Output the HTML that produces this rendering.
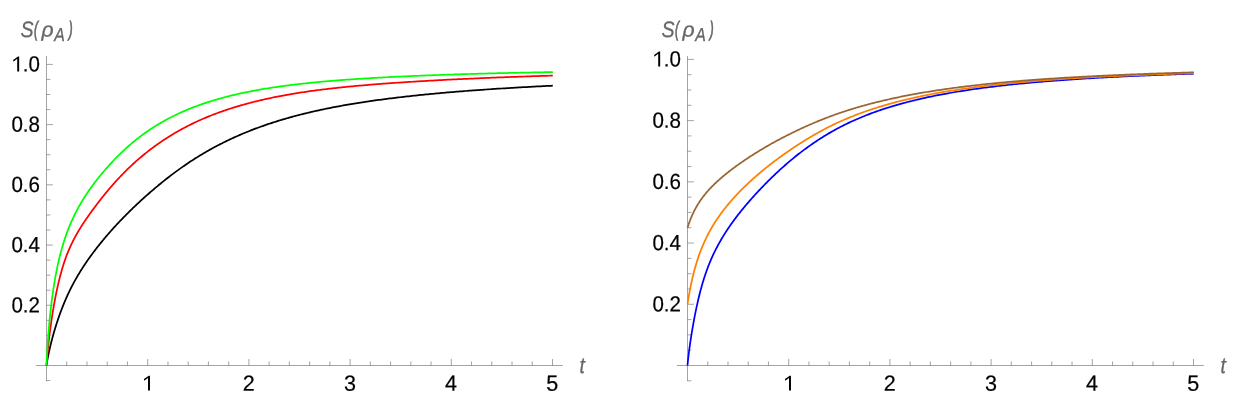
<!DOCTYPE html>
<html><head><meta charset="utf-8"><title>plot</title>
<style>
html,body{margin:0;padding:0;background:#fff;}
body{width:1242px;height:408px;overflow:hidden;}
svg{display:block;will-change:transform;}
text{font-family:"Liberation Sans",sans-serif;text-rendering:geometricPrecision;}
.tl{font-size:22.0px;fill:#000;stroke:#000;stroke-width:0.22px;}
.al{font-size:22.0px;font-style:italic;fill:#666;}
</style></head><body>
<svg width="1242" height="408" viewBox="0 0 1242 408">
<path d="M35.9 365.5 H562.8 M46.5 381.2 V56.0" stroke="#666666" stroke-width="0.6" fill="none"/>
<path d="M66.74 365.5 v-4 M86.98 365.5 v-4 M107.22 365.5 v-4 M127.46 365.5 v-4 M147.70 365.5 v-6.5 M167.94 365.5 v-4 M188.18 365.5 v-4 M208.42 365.5 v-4 M228.66 365.5 v-4 M248.90 365.5 v-6.5 M269.14 365.5 v-4 M289.38 365.5 v-4 M309.62 365.5 v-4 M329.86 365.5 v-4 M350.10 365.5 v-6.5 M370.34 365.5 v-4 M390.58 365.5 v-4 M410.82 365.5 v-4 M431.06 365.5 v-4 M451.30 365.5 v-6.5 M471.54 365.5 v-4 M491.78 365.5 v-4 M512.02 365.5 v-4 M532.26 365.5 v-4 M552.50 365.5 v-6.5 M46.5 380.56 h3.9 M46.5 350.44 h3.9 M46.5 335.39 h3.9 M46.5 320.33 h3.9 M46.5 305.28 h6.4 M46.5 290.23 h3.9 M46.5 275.17 h3.9 M46.5 260.12 h3.9 M46.5 245.06 h6.4 M46.5 230.00 h3.9 M46.5 214.95 h3.9 M46.5 199.89 h3.9 M46.5 184.84 h6.4 M46.5 169.78 h3.9 M46.5 154.73 h3.9 M46.5 139.67 h3.9 M46.5 124.62 h6.4 M46.5 109.56 h3.9 M46.5 94.51 h3.9 M46.5 79.45 h3.9 M46.5 64.40 h6.4 " stroke="#666666" stroke-width="0.6" fill="none"/>
<path d="M148.00 390.60 L148.00 377.90 L144.20 380.70 L143.95 379.00 L148.80 375.67 L149.97 375.67 L149.97 390.60Z" fill="#000"/>
<text transform="translate(248.70 390.70) rotate(0.03) scale(0.98 1)" text-anchor="middle" class="tl">2</text>
<text transform="translate(349.90 390.70) rotate(0.03) scale(0.98 1)" text-anchor="middle" class="tl">3</text>
<text transform="translate(451.10 390.70) rotate(0.03) scale(0.98 1)" text-anchor="middle" class="tl">4</text>
<text transform="translate(552.30 390.70) rotate(0.03) scale(0.98 1)" text-anchor="middle" class="tl">5</text>
<text transform="translate(40.00 312.48) rotate(0.03) scale(0.934 1)" text-anchor="end" class="tl">0.2</text>
<text transform="translate(40.00 252.26) rotate(0.03) scale(0.934 1)" text-anchor="end" class="tl">0.4</text>
<text transform="translate(40.00 192.04) rotate(0.03) scale(0.934 1)" text-anchor="end" class="tl">0.6</text>
<text transform="translate(40.00 131.82) rotate(0.03) scale(0.934 1)" text-anchor="end" class="tl">0.8</text>
<path d="M17.20 71.53 L17.20 58.83 L13.40 61.63 L13.15 59.93 L18.00 56.60 L19.17 56.60 L19.17 71.53Z" fill="#000"/>
<text transform="translate(40.00 71.60) rotate(0.03) scale(0.934 1)" text-anchor="end" class="tl">.0</text>
<text transform="translate(20.49 36.5) rotate(0.03) scale(0.886 1)" style="font-size:22.20px" class="al" stroke="#666" stroke-width="0.3" vector-effect="non-scaling-stroke">S</text>
<text transform="translate(34.08 36.45) rotate(0.03) scale(0.578 1)" style="font-size:21.00px" class="al" stroke="#666" stroke-width="0.8" vector-effect="non-scaling-stroke">(</text>
<text transform="translate(41.52 36.55) rotate(0.03) scale(1.019 1)" style="font-size:20.70px" class="al" stroke="#666" stroke-width="0.3" vector-effect="non-scaling-stroke">ρ</text>
<text transform="translate(54.23 41) rotate(0.03) scale(0.845 1)" style="font-size:18.75px" class="al" stroke="#666" stroke-width="0.3" vector-effect="non-scaling-stroke">A</text>
<text transform="translate(68.69 36.45) rotate(0.03) scale(0.559 1)" style="font-size:21.00px" class="al" stroke="#666" stroke-width="0.8" vector-effect="non-scaling-stroke">)</text>
<text transform="translate(579.58 372.7) rotate(0.03) scale(0.847 1)" style="font-size:22.55px" class="al" stroke="#666" stroke-width="0.3" vector-effect="non-scaling-stroke">t</text>
<path d="M46.50 365.50 L46.50 365.48 L46.51 365.42 L46.52 365.32 L46.53 365.20 L46.55 365.05 L46.57 364.87 L46.60 364.67 L46.63 364.45 L46.66 364.21 L46.70 363.94 L46.75 363.65 L46.79 363.35 L46.84 363.02 L46.90 362.68 L46.96 362.31 L47.02 361.93 L47.09 361.54 L47.16 361.12 L47.23 360.69 L47.31 360.25 L47.40 359.78 L47.48 359.31 L47.58 358.81 L47.67 358.31 L47.77 357.79 L47.87 357.25 L47.98 356.71 L48.09 356.14 L48.21 355.57 L48.33 354.98 L48.45 354.39 L48.58 353.78 L48.71 353.15 L48.85 352.52 L48.99 351.87 L49.14 351.22 L49.28 350.55 L49.44 349.87 L49.59 349.19 L49.75 348.49 L49.92 347.78 L50.09 347.06 L50.26 346.34 L50.44 345.60 L50.62 344.86 L50.80 344.11 L50.99 343.35 L51.18 342.58 L51.38 341.80 L51.58 341.02 L51.79 340.23 L52.00 339.43 L52.21 338.62 L52.43 337.81 L52.65 336.99 L52.88 336.17 L53.11 335.34 L53.34 334.50 L53.58 333.66 L53.82 332.81 L54.07 331.96 L54.32 331.10 L54.57 330.24 L54.83 329.37 L55.09 328.50 L55.36 327.63 L55.63 326.75 L55.90 325.87 L56.18 324.98 L56.46 324.09 L56.75 323.20 L57.04 322.31 L57.34 321.41 L57.63 320.51 L57.94 319.61 L58.24 318.70 L58.56 317.80 L58.87 316.89 L59.19 315.98 L59.51 315.07 L59.84 314.15 L60.17 313.24 L60.51 312.33 L60.85 311.41 L61.19 310.50 L61.54 309.58 L61.89 308.66 L62.25 307.75 L62.61 306.83 L62.97 305.91 L63.34 305.00 L63.71 304.08 L64.09 303.17 L64.47 302.25 L64.85 301.34 L65.24 300.43 L65.63 299.51 L66.03 298.60 L66.43 297.70 L66.83 296.79 L67.24 295.88 L67.65 294.98 L68.07 294.08 L68.49 293.17 L68.92 292.28 L69.35 291.38 L69.78 290.49 L70.22 289.59 L70.66 288.70 L71.10 287.82 L71.55 286.93 L72.01 286.05 L72.46 285.17 L72.93 284.29 L73.39 283.42 L73.86 282.55 L74.33 281.68 L74.81 280.81 L75.29 279.94 L75.78 279.08 L76.27 278.22 L76.76 277.36 L77.26 276.51 L77.76 275.65 L78.27 274.80 L78.78 273.95 L79.30 273.10 L79.81 272.25 L80.34 271.40 L80.86 270.56 L81.39 269.71 L81.93 268.87 L82.47 268.03 L83.01 267.19 L83.56 266.35 L84.11 265.52 L84.66 264.68 L85.22 263.85 L85.79 263.01 L86.35 262.18 L86.92 261.35 L87.50 260.52 L88.08 259.69 L88.66 258.86 L89.25 258.03 L89.84 257.20 L90.44 256.38 L91.04 255.55 L91.64 254.73 L92.25 253.90 L92.86 253.08 L93.48 252.25 L94.10 251.43 L94.72 250.61 L95.35 249.79 L95.98 248.96 L96.62 248.14 L97.26 247.32 L97.90 246.50 L98.55 245.68 L99.21 244.86 L99.86 244.04 L100.52 243.22 L101.19 242.41 L101.86 241.59 L102.53 240.77 L103.21 239.95 L103.89 239.13 L104.57 238.32 L105.26 237.50 L105.96 236.68 L106.65 235.87 L107.36 235.05 L108.06 234.23 L108.77 233.42 L109.48 232.60 L110.20 231.79 L110.92 230.97 L111.65 230.16 L112.38 229.34 L113.11 228.53 L113.85 227.71 L114.59 226.90 L115.34 226.08 L116.09 225.27 L116.85 224.46 L117.60 223.64 L118.37 222.83 L119.13 222.02 L119.90 221.20 L120.68 220.39 L121.46 219.58 L122.24 218.77 L123.03 217.95 L123.82 217.14 L124.61 216.33 L125.41 215.52 L126.22 214.71 L127.02 213.90 L127.83 213.09 L128.65 212.28 L129.47 211.47 L130.29 210.66 L131.12 209.85 L131.95 209.04 L132.79 208.23 L133.63 207.43 L134.47 206.62 L135.32 205.81 L136.17 205.01 L137.03 204.20 L137.89 203.39 L138.75 202.59 L139.62 201.78 L140.49 200.98 L141.37 200.18 L142.25 199.37 L143.13 198.57 L144.02 197.77 L144.91 196.97 L145.81 196.17 L146.71 195.37 L147.62 194.57 L148.52 193.77 L149.44 192.97 L150.35 192.18 L151.28 191.38 L152.20 190.59 L153.13 189.79 L154.06 189.00 L155.00 188.20 L155.94 187.41 L156.89 186.62 L157.84 185.83 L158.79 185.04 L159.75 184.25 L160.71 183.46 L161.68 182.68 L162.65 181.89 L163.62 181.11 L164.60 180.33 L165.58 179.55 L166.57 178.77 L167.56 177.99 L168.55 177.22 L169.55 176.45 L170.55 175.68 L171.56 174.91 L172.57 174.15 L173.58 173.38 L174.60 172.62 L175.63 171.87 L176.65 171.11 L177.68 170.36 L178.72 169.61 L179.76 168.86 L180.80 168.12 L181.85 167.38 L182.90 166.64 L183.95 165.91 L185.01 165.18 L186.08 164.45 L187.14 163.73 L188.22 163.01 L189.29 162.29 L190.37 161.58 L191.45 160.87 L192.54 160.16 L193.63 159.46 L194.73 158.76 L195.83 158.06 L196.93 157.37 L198.04 156.68 L199.16 156.00 L200.27 155.32 L201.39 154.64 L202.52 153.97 L203.64 153.30 L204.78 152.64 L205.91 151.98 L207.05 151.32 L208.20 150.67 L209.35 150.02 L210.50 149.38 L211.66 148.73 L212.82 148.10 L213.98 147.47 L215.15 146.84 L216.33 146.21 L217.50 145.59 L218.69 144.98 L219.87 144.37 L221.06 143.76 L222.25 143.16 L223.45 142.56 L224.65 141.96 L225.86 141.37 L227.07 140.79 L228.28 140.20 L229.50 139.63 L230.72 139.05 L231.95 138.48 L233.18 137.92 L234.41 137.35 L235.65 136.80 L236.89 136.24 L238.14 135.70 L239.39 135.15 L240.65 134.61 L241.90 134.07 L243.17 133.54 L244.43 133.01 L245.70 132.49 L246.98 131.97 L248.26 131.45 L249.54 130.94 L250.83 130.43 L252.12 129.93 L253.41 129.43 L254.71 128.94 L256.02 128.44 L257.32 127.96 L258.64 127.47 L259.95 127.00 L261.27 126.52 L262.60 126.05 L263.92 125.58 L265.25 125.12 L266.59 124.66 L267.93 124.20 L269.27 123.75 L270.62 123.30 L271.97 122.86 L273.33 122.42 L274.69 121.98 L276.06 121.55 L277.42 121.12 L278.80 120.70 L280.17 120.28 L281.55 119.86 L282.94 119.45 L284.33 119.04 L285.72 118.63 L287.12 118.23 L288.52 117.83 L289.92 117.44 L291.33 117.05 L292.75 116.66 L294.16 116.27 L295.58 115.89 L297.01 115.52 L298.44 115.14 L299.87 114.77 L301.31 114.41 L302.75 114.04 L304.20 113.68 L305.65 113.33 L307.10 112.98 L308.56 112.63 L310.02 112.28 L311.49 111.94 L312.96 111.60 L314.43 111.26 L315.91 110.93 L317.39 110.60 L318.88 110.28 L320.37 109.95 L321.86 109.63 L323.36 109.32 L324.86 109.00 L326.37 108.69 L327.88 108.39 L329.40 108.08 L330.92 107.78 L332.44 107.48 L333.97 107.19 L335.50 106.90 L337.03 106.61 L338.57 106.32 L340.11 106.04 L341.66 105.76 L343.21 105.48 L344.77 105.20 L346.33 104.93 L347.89 104.66 L349.46 104.39 L351.03 104.13 L352.61 103.87 L354.19 103.61 L355.77 103.35 L357.36 103.09 L358.95 102.84 L360.55 102.59 L362.15 102.34 L363.75 102.10 L365.36 101.85 L366.97 101.61 L368.59 101.38 L370.21 101.14 L371.83 100.91 L373.46 100.67 L375.10 100.44 L376.73 100.22 L378.37 99.99 L380.02 99.77 L381.67 99.55 L383.32 99.33 L384.98 99.11 L386.64 98.90 L388.30 98.68 L389.97 98.47 L391.65 98.26 L393.32 98.06 L395.01 97.85 L396.69 97.65 L398.38 97.45 L400.08 97.25 L401.77 97.05 L403.48 96.85 L405.18 96.66 L406.89 96.47 L408.61 96.27 L410.32 96.09 L412.05 95.90 L413.77 95.71 L415.50 95.53 L417.24 95.35 L418.98 95.17 L420.72 94.99 L422.46 94.81 L424.22 94.63 L425.97 94.46 L427.73 94.29 L429.49 94.12 L431.26 93.95 L433.03 93.78 L434.80 93.61 L436.58 93.45 L438.37 93.28 L440.15 93.12 L441.95 92.96 L443.74 92.80 L445.54 92.65 L447.34 92.49 L449.15 92.33 L450.96 92.18 L452.78 92.03 L454.60 91.88 L456.42 91.73 L458.25 91.58 L460.08 91.43 L461.92 91.29 L463.76 91.14 L465.60 91.00 L467.45 90.86 L469.30 90.72 L471.16 90.58 L473.02 90.44 L474.89 90.30 L476.75 90.16 L478.63 90.03 L480.50 89.90 L482.38 89.76 L484.27 89.63 L486.16 89.50 L488.05 89.37 L489.95 89.25 L491.85 89.12 L493.76 88.99 L495.66 88.87 L497.58 88.74 L499.50 88.62 L501.42 88.50 L503.34 88.38 L505.27 88.26 L507.21 88.14 L509.14 88.02 L511.09 87.91 L513.03 87.79 L514.98 87.68 L516.94 87.56 L518.89 87.45 L520.86 87.34 L522.82 87.23 L524.79 87.12 L526.77 87.01 L528.75 86.90 L530.73 86.80 L532.71 86.69 L534.70 86.58 L536.70 86.48 L538.70 86.38 L540.70 86.27 L542.71 86.17 L544.72 86.07 L546.73 85.97 L548.75 85.87 L550.78 85.77 L552.80 85.67" stroke="#000000" stroke-width="1.75" fill="none" stroke-linejoin="round"/>
<path d="M46.50 365.50 L46.50 365.45 L46.51 365.32 L46.52 365.13 L46.53 364.88 L46.55 364.57 L46.57 364.21 L46.60 363.81 L46.63 363.36 L46.66 362.87 L46.70 362.33 L46.75 361.76 L46.79 361.15 L46.84 360.50 L46.90 359.82 L46.96 359.10 L47.02 358.35 L47.09 357.57 L47.16 356.76 L47.23 355.92 L47.31 355.06 L47.40 354.16 L47.48 353.24 L47.58 352.29 L47.67 351.32 L47.77 350.32 L47.87 349.30 L47.98 348.26 L48.09 347.19 L48.21 346.11 L48.33 345.00 L48.45 343.88 L48.58 342.74 L48.71 341.57 L48.85 340.40 L48.99 339.20 L49.14 337.99 L49.28 336.76 L49.44 335.52 L49.59 334.27 L49.75 333.00 L49.92 331.72 L50.09 330.43 L50.26 329.12 L50.44 327.81 L50.62 326.48 L50.80 325.15 L50.99 323.81 L51.18 322.46 L51.38 321.10 L51.58 319.74 L51.79 318.37 L52.00 316.99 L52.21 315.61 L52.43 314.23 L52.65 312.84 L52.88 311.45 L53.11 310.06 L53.34 308.66 L53.58 307.27 L53.82 305.87 L54.07 304.47 L54.32 303.07 L54.57 301.68 L54.83 300.28 L55.09 298.89 L55.36 297.50 L55.63 296.11 L55.90 294.73 L56.18 293.35 L56.46 291.98 L56.75 290.61 L57.04 289.25 L57.34 287.89 L57.63 286.54 L57.94 285.19 L58.24 283.85 L58.56 282.53 L58.87 281.20 L59.19 279.89 L59.51 278.59 L59.84 277.29 L60.17 276.01 L60.51 274.73 L60.85 273.47 L61.19 272.22 L61.54 270.98 L61.89 269.75 L62.25 268.53 L62.61 267.32 L62.97 266.13 L63.34 264.94 L63.71 263.78 L64.09 262.62 L64.47 261.48 L64.85 260.35 L65.24 259.24 L65.63 258.13 L66.03 257.05 L66.43 255.97 L66.83 254.91 L67.24 253.86 L67.65 252.82 L68.07 251.80 L68.49 250.78 L68.92 249.78 L69.35 248.78 L69.78 247.80 L70.22 246.83 L70.66 245.86 L71.10 244.90 L71.55 243.96 L72.01 243.02 L72.46 242.09 L72.93 241.16 L73.39 240.25 L73.86 239.34 L74.33 238.43 L74.81 237.54 L75.29 236.65 L75.78 235.76 L76.27 234.88 L76.76 234.01 L77.26 233.14 L77.76 232.27 L78.27 231.41 L78.78 230.55 L79.30 229.70 L79.81 228.85 L80.34 228.00 L80.86 227.16 L81.39 226.32 L81.93 225.48 L82.47 224.64 L83.01 223.81 L83.56 222.97 L84.11 222.14 L84.66 221.31 L85.22 220.48 L85.79 219.65 L86.35 218.82 L86.92 218.00 L87.50 217.17 L88.08 216.34 L88.66 215.51 L89.25 214.69 L89.84 213.86 L90.44 213.03 L91.04 212.20 L91.64 211.37 L92.25 210.54 L92.86 209.71 L93.48 208.87 L94.10 208.04 L94.72 207.20 L95.35 206.36 L95.98 205.52 L96.62 204.68 L97.26 203.83 L97.90 202.99 L98.55 202.14 L99.21 201.30 L99.86 200.45 L100.52 199.61 L101.19 198.76 L101.86 197.91 L102.53 197.06 L103.21 196.21 L103.89 195.37 L104.57 194.52 L105.26 193.67 L105.96 192.83 L106.65 191.98 L107.36 191.14 L108.06 190.29 L108.77 189.45 L109.48 188.61 L110.20 187.77 L110.92 186.93 L111.65 186.09 L112.38 185.25 L113.11 184.42 L113.85 183.58 L114.59 182.75 L115.34 181.92 L116.09 181.09 L116.85 180.27 L117.60 179.44 L118.37 178.62 L119.13 177.80 L119.90 176.98 L120.68 176.17 L121.46 175.36 L122.24 174.55 L123.03 173.74 L123.82 172.93 L124.61 172.13 L125.41 171.33 L126.22 170.54 L127.02 169.74 L127.83 168.95 L128.65 168.16 L129.47 167.38 L130.29 166.59 L131.12 165.82 L131.95 165.04 L132.79 164.27 L133.63 163.50 L134.47 162.73 L135.32 161.97 L136.17 161.21 L137.03 160.45 L137.89 159.70 L138.75 158.95 L139.62 158.20 L140.49 157.46 L141.37 156.72 L142.25 155.98 L143.13 155.25 L144.02 154.52 L144.91 153.80 L145.81 153.08 L146.71 152.36 L147.62 151.64 L148.52 150.93 L149.44 150.23 L150.35 149.52 L151.28 148.82 L152.20 148.13 L153.13 147.44 L154.06 146.75 L155.00 146.06 L155.94 145.38 L156.89 144.70 L157.84 144.03 L158.79 143.36 L159.75 142.70 L160.71 142.04 L161.68 141.38 L162.65 140.72 L163.62 140.08 L164.60 139.43 L165.58 138.79 L166.57 138.15 L167.56 137.52 L168.55 136.89 L169.55 136.27 L170.55 135.65 L171.56 135.03 L172.57 134.42 L173.58 133.81 L174.60 133.21 L175.63 132.61 L176.65 132.01 L177.68 131.42 L178.72 130.84 L179.76 130.26 L180.80 129.68 L181.85 129.11 L182.90 128.54 L183.95 127.97 L185.01 127.41 L186.08 126.86 L187.14 126.31 L188.22 125.76 L189.29 125.22 L190.37 124.68 L191.45 124.14 L192.54 123.61 L193.63 123.09 L194.73 122.57 L195.83 122.05 L196.93 121.54 L198.04 121.03 L199.16 120.52 L200.27 120.02 L201.39 119.53 L202.52 119.04 L203.64 118.55 L204.78 118.07 L205.91 117.59 L207.05 117.11 L208.20 116.64 L209.35 116.18 L210.50 115.72 L211.66 115.26 L212.82 114.80 L213.98 114.35 L215.15 113.91 L216.33 113.47 L217.50 113.03 L218.69 112.60 L219.87 112.17 L221.06 111.74 L222.25 111.32 L223.45 110.90 L224.65 110.49 L225.86 110.08 L227.07 109.67 L228.28 109.27 L229.50 108.87 L230.72 108.48 L231.95 108.09 L233.18 107.70 L234.41 107.32 L235.65 106.94 L236.89 106.56 L238.14 106.19 L239.39 105.82 L240.65 105.46 L241.90 105.10 L243.17 104.74 L244.43 104.39 L245.70 104.04 L246.98 103.69 L248.26 103.35 L249.54 103.01 L250.83 102.67 L252.12 102.34 L253.41 102.01 L254.71 101.69 L256.02 101.36 L257.32 101.04 L258.64 100.73 L259.95 100.42 L261.27 100.11 L262.60 99.80 L263.92 99.50 L265.25 99.20 L266.59 98.90 L267.93 98.61 L269.27 98.32 L270.62 98.04 L271.97 97.75 L273.33 97.47 L274.69 97.19 L276.06 96.92 L277.42 96.65 L278.80 96.38 L280.17 96.12 L281.55 95.85 L282.94 95.59 L284.33 95.34 L285.72 95.08 L287.12 94.83 L288.52 94.59 L289.92 94.34 L291.33 94.10 L292.75 93.86 L294.16 93.62 L295.58 93.39 L297.01 93.16 L298.44 92.93 L299.87 92.70 L301.31 92.48 L302.75 92.26 L304.20 92.04 L305.65 91.83 L307.10 91.61 L308.56 91.40 L310.02 91.20 L311.49 90.99 L312.96 90.79 L314.43 90.59 L315.91 90.39 L317.39 90.19 L318.88 90.00 L320.37 89.81 L321.86 89.62 L323.36 89.44 L324.86 89.25 L326.37 89.07 L327.88 88.89 L329.40 88.71 L330.92 88.54 L332.44 88.37 L333.97 88.20 L335.50 88.03 L337.03 87.86 L338.57 87.69 L340.11 87.53 L341.66 87.37 L343.21 87.21 L344.77 87.05 L346.33 86.90 L347.89 86.74 L349.46 86.59 L351.03 86.44 L352.61 86.29 L354.19 86.14 L355.77 85.99 L357.36 85.85 L358.95 85.70 L360.55 85.56 L362.15 85.42 L363.75 85.28 L365.36 85.15 L366.97 85.01 L368.59 84.87 L370.21 84.74 L371.83 84.61 L373.46 84.48 L375.10 84.35 L376.73 84.22 L378.37 84.09 L380.02 83.96 L381.67 83.84 L383.32 83.71 L384.98 83.59 L386.64 83.47 L388.30 83.35 L389.97 83.23 L391.65 83.11 L393.32 82.99 L395.01 82.87 L396.69 82.75 L398.38 82.64 L400.08 82.52 L401.77 82.41 L403.48 82.30 L405.18 82.19 L406.89 82.08 L408.61 81.97 L410.32 81.86 L412.05 81.75 L413.77 81.64 L415.50 81.53 L417.24 81.43 L418.98 81.32 L420.72 81.22 L422.46 81.11 L424.22 81.01 L425.97 80.91 L427.73 80.81 L429.49 80.71 L431.26 80.61 L433.03 80.51 L434.80 80.41 L436.58 80.31 L438.37 80.21 L440.15 80.12 L441.95 80.02 L443.74 79.93 L445.54 79.83 L447.34 79.74 L449.15 79.65 L450.96 79.55 L452.78 79.46 L454.60 79.37 L456.42 79.28 L458.25 79.19 L460.08 79.11 L461.92 79.02 L463.76 78.93 L465.60 78.85 L467.45 78.76 L469.30 78.68 L471.16 78.59 L473.02 78.51 L474.89 78.43 L476.75 78.34 L478.63 78.26 L480.50 78.18 L482.38 78.10 L484.27 78.02 L486.16 77.94 L488.05 77.86 L489.95 77.79 L491.85 77.71 L493.76 77.63 L495.66 77.56 L497.58 77.48 L499.50 77.41 L501.42 77.34 L503.34 77.26 L505.27 77.19 L507.21 77.12 L509.14 77.05 L511.09 76.98 L513.03 76.91 L514.98 76.84 L516.94 76.77 L518.89 76.70 L520.86 76.64 L522.82 76.57 L524.79 76.50 L526.77 76.44 L528.75 76.37 L530.73 76.31 L532.71 76.24 L534.70 76.18 L536.70 76.12 L538.70 76.06 L540.70 75.99 L542.71 75.93 L544.72 75.87 L546.73 75.81 L548.75 75.75 L550.78 75.69 L552.80 75.64" stroke="#ff0000" stroke-width="1.75" fill="none" stroke-linejoin="round"/>
<path d="M46.50 365.50 L46.50 365.40 L46.51 365.19 L46.52 364.87 L46.53 364.46 L46.55 363.96 L46.57 363.39 L46.60 362.74 L46.63 362.02 L46.66 361.23 L46.70 360.38 L46.75 359.48 L46.79 358.52 L46.84 357.51 L46.90 356.45 L46.96 355.34 L47.02 354.19 L47.09 353.00 L47.16 351.77 L47.23 350.50 L47.31 349.20 L47.40 347.87 L47.48 346.50 L47.58 345.11 L47.67 343.69 L47.77 342.24 L47.87 340.78 L47.98 339.29 L48.09 337.78 L48.21 336.25 L48.33 334.70 L48.45 333.14 L48.58 331.57 L48.71 329.98 L48.85 328.39 L48.99 326.78 L49.14 325.16 L49.28 323.54 L49.44 321.91 L49.59 320.27 L49.75 318.63 L49.92 316.99 L50.09 315.35 L50.26 313.70 L50.44 312.06 L50.62 310.41 L50.80 308.77 L50.99 307.13 L51.18 305.49 L51.38 303.85 L51.58 302.22 L51.79 300.60 L52.00 298.98 L52.21 297.36 L52.43 295.75 L52.65 294.15 L52.88 292.56 L53.11 290.98 L53.34 289.40 L53.58 287.83 L53.82 286.27 L54.07 284.73 L54.32 283.19 L54.57 281.66 L54.83 280.14 L55.09 278.63 L55.36 277.13 L55.63 275.65 L55.90 274.17 L56.18 272.71 L56.46 271.26 L56.75 269.82 L57.04 268.39 L57.34 266.97 L57.63 265.57 L57.94 264.17 L58.24 262.79 L58.56 261.42 L58.87 260.06 L59.19 258.72 L59.51 257.38 L59.84 256.06 L60.17 254.75 L60.51 253.45 L60.85 252.16 L61.19 250.88 L61.54 249.62 L61.89 248.37 L62.25 247.12 L62.61 245.89 L62.97 244.67 L63.34 243.46 L63.71 242.27 L64.09 241.08 L64.47 239.90 L64.85 238.73 L65.24 237.58 L65.63 236.43 L66.03 235.29 L66.43 234.16 L66.83 233.05 L67.24 231.94 L67.65 230.84 L68.07 229.75 L68.49 228.67 L68.92 227.60 L69.35 226.53 L69.78 225.48 L70.22 224.43 L70.66 223.39 L71.10 222.36 L71.55 221.34 L72.01 220.33 L72.46 219.32 L72.93 218.32 L73.39 217.32 L73.86 216.34 L74.33 215.36 L74.81 214.38 L75.29 213.42 L75.78 212.46 L76.27 211.50 L76.76 210.56 L77.26 209.61 L77.76 208.68 L78.27 207.75 L78.78 206.82 L79.30 205.90 L79.81 204.99 L80.34 204.08 L80.86 203.17 L81.39 202.27 L81.93 201.37 L82.47 200.48 L83.01 199.59 L83.56 198.71 L84.11 197.83 L84.66 196.96 L85.22 196.09 L85.79 195.22 L86.35 194.36 L86.92 193.50 L87.50 192.64 L88.08 191.79 L88.66 190.94 L89.25 190.09 L89.84 189.24 L90.44 188.40 L91.04 187.56 L91.64 186.73 L92.25 185.89 L92.86 185.06 L93.48 184.24 L94.10 183.41 L94.72 182.59 L95.35 181.76 L95.98 180.95 L96.62 180.13 L97.26 179.31 L97.90 178.50 L98.55 177.69 L99.21 176.88 L99.86 176.07 L100.52 175.27 L101.19 174.46 L101.86 173.66 L102.53 172.86 L103.21 172.06 L103.89 171.26 L104.57 170.47 L105.26 169.67 L105.96 168.88 L106.65 168.08 L107.36 167.29 L108.06 166.50 L108.77 165.72 L109.48 164.93 L110.20 164.14 L110.92 163.36 L111.65 162.58 L112.38 161.80 L113.11 161.02 L113.85 160.24 L114.59 159.46 L115.34 158.69 L116.09 157.92 L116.85 157.15 L117.60 156.39 L118.37 155.63 L119.13 154.87 L119.90 154.11 L120.68 153.35 L121.46 152.60 L122.24 151.86 L123.03 151.11 L123.82 150.37 L124.61 149.63 L125.41 148.90 L126.22 148.17 L127.02 147.44 L127.83 146.71 L128.65 145.99 L129.47 145.28 L130.29 144.57 L131.12 143.86 L131.95 143.15 L132.79 142.45 L133.63 141.75 L134.47 141.06 L135.32 140.37 L136.17 139.69 L137.03 139.01 L137.89 138.33 L138.75 137.66 L139.62 136.99 L140.49 136.33 L141.37 135.67 L142.25 135.01 L143.13 134.36 L144.02 133.72 L144.91 133.08 L145.81 132.44 L146.71 131.81 L147.62 131.18 L148.52 130.56 L149.44 129.94 L150.35 129.32 L151.28 128.71 L152.20 128.11 L153.13 127.51 L154.06 126.91 L155.00 126.32 L155.94 125.73 L156.89 125.15 L157.84 124.57 L158.79 124.00 L159.75 123.43 L160.71 122.87 L161.68 122.31 L162.65 121.75 L163.62 121.20 L164.60 120.66 L165.58 120.12 L166.57 119.58 L167.56 119.05 L168.55 118.52 L169.55 118.00 L170.55 117.48 L171.56 116.97 L172.57 116.46 L173.58 115.95 L174.60 115.45 L175.63 114.95 L176.65 114.46 L177.68 113.98 L178.72 113.49 L179.76 113.01 L180.80 112.54 L181.85 112.07 L182.90 111.61 L183.95 111.15 L185.01 110.69 L186.08 110.24 L187.14 109.79 L188.22 109.35 L189.29 108.91 L190.37 108.47 L191.45 108.04 L192.54 107.61 L193.63 107.19 L194.73 106.77 L195.83 106.36 L196.93 105.95 L198.04 105.54 L199.16 105.14 L200.27 104.74 L201.39 104.34 L202.52 103.95 L203.64 103.57 L204.78 103.19 L205.91 102.81 L207.05 102.43 L208.20 102.06 L209.35 101.69 L210.50 101.33 L211.66 100.97 L212.82 100.62 L213.98 100.26 L215.15 99.92 L216.33 99.57 L217.50 99.23 L218.69 98.89 L219.87 98.56 L221.06 98.23 L222.25 97.90 L223.45 97.58 L224.65 97.26 L225.86 96.94 L227.07 96.63 L228.28 96.32 L229.50 96.02 L230.72 95.71 L231.95 95.41 L233.18 95.12 L234.41 94.83 L235.65 94.54 L236.89 94.25 L238.14 93.97 L239.39 93.69 L240.65 93.41 L241.90 93.14 L243.17 92.87 L244.43 92.60 L245.70 92.34 L246.98 92.07 L248.26 91.82 L249.54 91.56 L250.83 91.31 L252.12 91.06 L253.41 90.81 L254.71 90.57 L256.02 90.33 L257.32 90.09 L258.64 89.86 L259.95 89.63 L261.27 89.40 L262.60 89.17 L263.92 88.95 L265.25 88.72 L266.59 88.51 L267.93 88.29 L269.27 88.08 L270.62 87.87 L271.97 87.66 L273.33 87.45 L274.69 87.25 L276.06 87.05 L277.42 86.85 L278.80 86.65 L280.17 86.46 L281.55 86.27 L282.94 86.08 L284.33 85.89 L285.72 85.71 L287.12 85.53 L288.52 85.35 L289.92 85.17 L291.33 84.99 L292.75 84.82 L294.16 84.65 L295.58 84.48 L297.01 84.31 L298.44 84.15 L299.87 83.98 L301.31 83.82 L302.75 83.66 L304.20 83.50 L305.65 83.35 L307.10 83.19 L308.56 83.04 L310.02 82.89 L311.49 82.74 L312.96 82.59 L314.43 82.45 L315.91 82.30 L317.39 82.16 L318.88 82.02 L320.37 81.88 L321.86 81.74 L323.36 81.61 L324.86 81.47 L326.37 81.34 L327.88 81.21 L329.40 81.08 L330.92 80.95 L332.44 80.82 L333.97 80.70 L335.50 80.58 L337.03 80.45 L338.57 80.33 L340.11 80.21 L341.66 80.09 L343.21 79.98 L344.77 79.86 L346.33 79.74 L347.89 79.63 L349.46 79.52 L351.03 79.41 L352.61 79.30 L354.19 79.19 L355.77 79.08 L357.36 78.98 L358.95 78.87 L360.55 78.77 L362.15 78.66 L363.75 78.56 L365.36 78.46 L366.97 78.36 L368.59 78.26 L370.21 78.17 L371.83 78.07 L373.46 77.97 L375.10 77.88 L376.73 77.79 L378.37 77.69 L380.02 77.60 L381.67 77.51 L383.32 77.42 L384.98 77.33 L386.64 77.25 L388.30 77.16 L389.97 77.07 L391.65 76.99 L393.32 76.91 L395.01 76.82 L396.69 76.74 L398.38 76.66 L400.08 76.58 L401.77 76.50 L403.48 76.42 L405.18 76.34 L406.89 76.26 L408.61 76.19 L410.32 76.11 L412.05 76.04 L413.77 75.96 L415.50 75.89 L417.24 75.82 L418.98 75.75 L420.72 75.68 L422.46 75.60 L424.22 75.53 L425.97 75.47 L427.73 75.40 L429.49 75.33 L431.26 75.26 L433.03 75.20 L434.80 75.13 L436.58 75.07 L438.37 75.00 L440.15 74.94 L441.95 74.88 L443.74 74.81 L445.54 74.75 L447.34 74.69 L449.15 74.63 L450.96 74.57 L452.78 74.51 L454.60 74.45 L456.42 74.39 L458.25 74.33 L460.08 74.28 L461.92 74.22 L463.76 74.17 L465.60 74.11 L467.45 74.05 L469.30 74.00 L471.16 73.95 L473.02 73.89 L474.89 73.84 L476.75 73.79 L478.63 73.74 L480.50 73.68 L482.38 73.63 L484.27 73.58 L486.16 73.53 L488.05 73.48 L489.95 73.43 L491.85 73.39 L493.76 73.34 L495.66 73.29 L497.58 73.24 L499.50 73.20 L501.42 73.15 L503.34 73.10 L505.27 73.06 L507.21 73.01 L509.14 72.97 L511.09 72.92 L513.03 72.88 L514.98 72.84 L516.94 72.79 L518.89 72.75 L520.86 72.71 L522.82 72.67 L524.79 72.63 L526.77 72.59 L528.75 72.54 L530.73 72.50 L532.71 72.46 L534.70 72.42 L536.70 72.39 L538.70 72.35 L540.70 72.31 L542.71 72.27 L544.72 72.23 L546.73 72.19 L548.75 72.16 L550.78 72.12 L552.80 72.08" stroke="#00ff00" stroke-width="1.75" fill="none" stroke-linejoin="round"/>
<path d="M676.85 365.5 H1203.8 M687.5 381.1 V56.0" stroke="#666666" stroke-width="0.6" fill="none"/>
<path d="M707.74 365.5 v-4 M727.98 365.5 v-4 M748.22 365.5 v-4 M768.46 365.5 v-4 M788.70 365.5 v-6.5 M808.94 365.5 v-4 M829.18 365.5 v-4 M849.42 365.5 v-4 M869.66 365.5 v-4 M889.90 365.5 v-6.5 M910.14 365.5 v-4 M930.38 365.5 v-4 M950.62 365.5 v-4 M970.86 365.5 v-4 M991.10 365.5 v-6.5 M1011.34 365.5 v-4 M1031.58 365.5 v-4 M1051.82 365.5 v-4 M1072.06 365.5 v-4 M1092.30 365.5 v-6.5 M1112.54 365.5 v-4 M1132.78 365.5 v-4 M1153.02 365.5 v-4 M1173.26 365.5 v-4 M1193.50 365.5 v-6.5 M687.5 380.81 h3.9 M687.5 350.19 h3.9 M687.5 334.89 h3.9 M687.5 319.58 h3.9 M687.5 304.28 h6.4 M687.5 288.98 h3.9 M687.5 273.67 h3.9 M687.5 258.37 h3.9 M687.5 243.06 h6.4 M687.5 227.75 h3.9 M687.5 212.45 h3.9 M687.5 197.14 h3.9 M687.5 181.84 h6.4 M687.5 166.53 h3.9 M687.5 151.23 h3.9 M687.5 135.92 h3.9 M687.5 120.62 h6.4 M687.5 105.31 h3.9 M687.5 90.01 h3.9 M687.5 74.70 h3.9 M687.5 59.40 h6.4 " stroke="#666666" stroke-width="0.6" fill="none"/>
<path d="M789.00 390.60 L789.00 377.90 L785.20 380.70 L784.95 379.00 L789.80 375.67 L790.97 375.67 L790.97 390.60Z" fill="#000"/>
<text transform="translate(889.70 390.70) rotate(0.03) scale(0.98 1)" text-anchor="middle" class="tl">2</text>
<text transform="translate(990.90 390.70) rotate(0.03) scale(0.98 1)" text-anchor="middle" class="tl">3</text>
<text transform="translate(1092.10 390.70) rotate(0.03) scale(0.98 1)" text-anchor="middle" class="tl">4</text>
<text transform="translate(1193.30 390.70) rotate(0.03) scale(0.98 1)" text-anchor="middle" class="tl">5</text>
<text transform="translate(681.00 311.48) rotate(0.03) scale(0.934 1)" text-anchor="end" class="tl">0.2</text>
<text transform="translate(681.00 250.26) rotate(0.03) scale(0.934 1)" text-anchor="end" class="tl">0.4</text>
<text transform="translate(681.00 189.04) rotate(0.03) scale(0.934 1)" text-anchor="end" class="tl">0.6</text>
<text transform="translate(681.00 127.82) rotate(0.03) scale(0.934 1)" text-anchor="end" class="tl">0.8</text>
<path d="M658.20 66.53 L658.20 53.83 L654.40 56.63 L654.15 54.93 L659.00 51.60 L660.17 51.60 L660.17 66.53Z" fill="#000"/>
<text transform="translate(681.00 66.60) rotate(0.03) scale(0.934 1)" text-anchor="end" class="tl">.0</text>
<text transform="translate(661.49 36.5) rotate(0.03) scale(0.886 1)" style="font-size:22.20px" class="al" stroke="#666" stroke-width="0.3" vector-effect="non-scaling-stroke">S</text>
<text transform="translate(675.08 36.45) rotate(0.03) scale(0.578 1)" style="font-size:21.00px" class="al" stroke="#666" stroke-width="0.8" vector-effect="non-scaling-stroke">(</text>
<text transform="translate(682.52 36.55) rotate(0.03) scale(1.019 1)" style="font-size:20.70px" class="al" stroke="#666" stroke-width="0.3" vector-effect="non-scaling-stroke">ρ</text>
<text transform="translate(695.23 41) rotate(0.03) scale(0.845 1)" style="font-size:18.75px" class="al" stroke="#666" stroke-width="0.3" vector-effect="non-scaling-stroke">A</text>
<text transform="translate(709.69 36.45) rotate(0.03) scale(0.559 1)" style="font-size:21.00px" class="al" stroke="#666" stroke-width="0.8" vector-effect="non-scaling-stroke">)</text>
<text transform="translate(1220.58 372.7) rotate(0.03) scale(0.847 1)" style="font-size:22.55px" class="al" stroke="#666" stroke-width="0.3" vector-effect="non-scaling-stroke">t</text>
<path d="M687.50 365.50 L687.50 365.46 L687.51 365.36 L687.52 365.22 L687.53 365.02 L687.55 364.79 L687.57 364.51 L687.60 364.20 L687.63 363.85 L687.66 363.47 L687.70 363.06 L687.75 362.61 L687.79 362.13 L687.84 361.63 L687.90 361.09 L687.96 360.53 L688.02 359.94 L688.09 359.32 L688.16 358.68 L688.23 358.02 L688.31 357.33 L688.40 356.61 L688.48 355.88 L688.58 355.12 L688.67 354.34 L688.77 353.53 L688.87 352.71 L688.98 351.87 L689.09 351.00 L689.21 350.12 L689.33 349.22 L689.45 348.29 L689.58 347.35 L689.71 346.40 L689.85 345.42 L689.99 344.43 L690.14 343.43 L690.28 342.41 L690.44 341.37 L690.59 340.32 L690.75 339.25 L690.92 338.17 L691.09 337.08 L691.26 335.97 L691.44 334.85 L691.62 333.72 L691.80 332.58 L691.99 331.43 L692.18 330.27 L692.38 329.09 L692.58 327.91 L692.79 326.72 L693.00 325.52 L693.21 324.32 L693.43 323.10 L693.65 321.88 L693.88 320.66 L694.11 319.42 L694.34 318.18 L694.58 316.94 L694.82 315.69 L695.07 314.44 L695.32 313.19 L695.57 311.93 L695.83 310.67 L696.09 309.41 L696.36 308.15 L696.63 306.89 L696.90 305.62 L697.18 304.36 L697.46 303.09 L697.75 301.83 L698.04 300.57 L698.34 299.31 L698.63 298.06 L698.94 296.80 L699.24 295.55 L699.56 294.30 L699.87 293.06 L700.19 291.82 L700.51 290.59 L700.84 289.36 L701.17 288.14 L701.51 286.92 L701.85 285.71 L702.19 284.51 L702.54 283.31 L702.89 282.12 L703.25 280.94 L703.61 279.76 L703.97 278.60 L704.34 277.44 L704.71 276.30 L705.09 275.16 L705.47 274.03 L705.85 272.91 L706.24 271.80 L706.63 270.70 L707.03 269.61 L707.43 268.52 L707.83 267.45 L708.24 266.38 L708.65 265.33 L709.07 264.28 L709.49 263.23 L709.92 262.20 L710.35 261.17 L710.78 260.16 L711.22 259.14 L711.66 258.14 L712.10 257.14 L712.55 256.15 L713.01 255.17 L713.46 254.19 L713.93 253.22 L714.39 252.25 L714.86 251.30 L715.33 250.34 L715.81 249.39 L716.29 248.45 L716.78 247.52 L717.27 246.58 L717.76 245.66 L718.26 244.74 L718.76 243.82 L719.27 242.91 L719.78 242.00 L720.30 241.09 L720.81 240.20 L721.34 239.30 L721.86 238.41 L722.39 237.52 L722.93 236.64 L723.47 235.76 L724.01 234.88 L724.56 234.01 L725.11 233.14 L725.66 232.27 L726.22 231.40 L726.79 230.54 L727.35 229.68 L727.92 228.83 L728.50 227.97 L729.08 227.12 L729.66 226.27 L730.25 225.42 L730.84 224.58 L731.44 223.74 L732.04 222.90 L732.64 222.06 L733.25 221.22 L733.86 220.38 L734.48 219.55 L735.10 218.72 L735.72 217.89 L736.35 217.06 L736.98 216.23 L737.62 215.40 L738.26 214.58 L738.90 213.75 L739.55 212.93 L740.21 212.11 L740.86 211.29 L741.52 210.46 L742.19 209.64 L742.86 208.83 L743.53 208.01 L744.21 207.19 L744.89 206.37 L745.57 205.56 L746.26 204.74 L746.96 203.93 L747.65 203.11 L748.36 202.30 L749.06 201.48 L749.77 200.67 L750.48 199.86 L751.20 199.04 L751.92 198.23 L752.65 197.42 L753.38 196.61 L754.11 195.80 L754.85 194.98 L755.59 194.17 L756.34 193.36 L757.09 192.55 L757.85 191.74 L758.60 190.93 L759.37 190.12 L760.13 189.31 L760.90 188.50 L761.68 187.69 L762.46 186.88 L763.24 186.07 L764.03 185.26 L764.82 184.45 L765.61 183.64 L766.41 182.83 L767.22 182.03 L768.02 181.22 L768.83 180.41 L769.65 179.60 L770.47 178.79 L771.29 177.99 L772.12 177.18 L772.95 176.38 L773.79 175.57 L774.63 174.77 L775.47 173.97 L776.32 173.17 L777.17 172.37 L778.03 171.57 L778.89 170.77 L779.75 169.98 L780.62 169.19 L781.49 168.40 L782.37 167.61 L783.25 166.82 L784.13 166.04 L785.02 165.25 L785.91 164.47 L786.81 163.69 L787.71 162.92 L788.62 162.14 L789.52 161.37 L790.44 160.60 L791.35 159.84 L792.28 159.08 L793.20 158.32 L794.13 157.56 L795.06 156.80 L796.00 156.05 L796.94 155.30 L797.89 154.55 L798.84 153.81 L799.79 153.07 L800.75 152.33 L801.71 151.60 L802.68 150.87 L803.65 150.14 L804.62 149.42 L805.60 148.70 L806.58 147.98 L807.57 147.26 L808.56 146.55 L809.55 145.84 L810.55 145.14 L811.55 144.44 L812.56 143.74 L813.57 143.05 L814.58 142.36 L815.60 141.67 L816.63 140.99 L817.65 140.31 L818.68 139.63 L819.72 138.96 L820.76 138.30 L821.80 137.64 L822.85 136.98 L823.90 136.33 L824.95 135.68 L826.01 135.03 L827.08 134.39 L828.14 133.76 L829.22 133.13 L830.29 132.50 L831.37 131.88 L832.45 131.26 L833.54 130.65 L834.63 130.05 L835.73 129.44 L836.83 128.85 L837.93 128.26 L839.04 127.67 L840.16 127.09 L841.27 126.51 L842.39 125.94 L843.52 125.37 L844.64 124.81 L845.78 124.25 L846.91 123.70 L848.05 123.16 L849.20 122.61 L850.35 122.08 L851.50 121.54 L852.66 121.02 L853.82 120.49 L854.98 119.98 L856.15 119.46 L857.33 118.95 L858.50 118.45 L859.69 117.95 L860.87 117.45 L862.06 116.96 L863.25 116.48 L864.45 115.99 L865.65 115.52 L866.86 115.04 L868.07 114.57 L869.28 114.11 L870.50 113.65 L871.72 113.19 L872.95 112.74 L874.18 112.29 L875.41 111.85 L876.65 111.41 L877.89 110.97 L879.14 110.54 L880.39 110.12 L881.65 109.69 L882.90 109.27 L884.17 108.86 L885.43 108.45 L886.70 108.04 L887.98 107.63 L889.26 107.23 L890.54 106.84 L891.83 106.45 L893.12 106.06 L894.41 105.67 L895.71 105.29 L897.02 104.91 L898.32 104.54 L899.64 104.17 L900.95 103.80 L902.27 103.44 L903.60 103.08 L904.92 102.72 L906.25 102.37 L907.59 102.02 L908.93 101.68 L910.27 101.33 L911.62 100.99 L912.97 100.66 L914.33 100.33 L915.69 100.00 L917.06 99.67 L918.42 99.35 L919.80 99.03 L921.17 98.71 L922.55 98.40 L923.94 98.09 L925.33 97.78 L926.72 97.48 L928.12 97.18 L929.52 96.88 L930.92 96.58 L932.33 96.29 L933.75 96.00 L935.16 95.71 L936.58 95.43 L938.01 95.15 L939.44 94.87 L940.87 94.60 L942.31 94.33 L943.75 94.06 L945.20 93.79 L946.65 93.53 L948.10 93.27 L949.56 93.01 L951.02 92.75 L952.49 92.50 L953.96 92.25 L955.43 92.00 L956.91 91.75 L958.39 91.51 L959.88 91.27 L961.37 91.03 L962.86 90.80 L964.36 90.56 L965.86 90.33 L967.37 90.11 L968.88 89.88 L970.40 89.66 L971.92 89.44 L973.44 89.22 L974.97 89.00 L976.50 88.79 L978.03 88.57 L979.57 88.36 L981.11 88.15 L982.66 87.95 L984.21 87.75 L985.77 87.54 L987.33 87.34 L988.89 87.15 L990.46 86.95 L992.03 86.76 L993.61 86.57 L995.19 86.38 L996.77 86.19 L998.36 86.00 L999.95 85.82 L1001.55 85.64 L1003.15 85.46 L1004.75 85.28 L1006.36 85.10 L1007.97 84.93 L1009.59 84.75 L1011.21 84.58 L1012.83 84.41 L1014.46 84.24 L1016.10 84.08 L1017.73 83.91 L1019.37 83.75 L1021.02 83.59 L1022.67 83.43 L1024.32 83.27 L1025.98 83.11 L1027.64 82.96 L1029.30 82.81 L1030.97 82.65 L1032.65 82.50 L1034.32 82.35 L1036.01 82.21 L1037.69 82.06 L1039.38 81.92 L1041.08 81.77 L1042.77 81.63 L1044.48 81.49 L1046.18 81.35 L1047.89 81.21 L1049.61 81.08 L1051.32 80.94 L1053.05 80.81 L1054.77 80.68 L1056.50 80.54 L1058.24 80.41 L1059.98 80.29 L1061.72 80.16 L1063.46 80.03 L1065.22 79.91 L1066.97 79.78 L1068.73 79.66 L1070.49 79.54 L1072.26 79.42 L1074.03 79.30 L1075.80 79.18 L1077.58 79.07 L1079.37 78.95 L1081.15 78.84 L1082.95 78.72 L1084.74 78.61 L1086.54 78.50 L1088.34 78.39 L1090.15 78.28 L1091.96 78.17 L1093.78 78.06 L1095.60 77.96 L1097.42 77.85 L1099.25 77.75 L1101.08 77.65 L1102.92 77.54 L1104.76 77.44 L1106.60 77.34 L1108.45 77.24 L1110.30 77.15 L1112.16 77.05 L1114.02 76.95 L1115.89 76.86 L1117.75 76.76 L1119.63 76.67 L1121.50 76.58 L1123.38 76.48 L1125.27 76.39 L1127.16 76.30 L1129.05 76.21 L1130.95 76.13 L1132.85 76.04 L1134.76 75.95 L1136.66 75.87 L1138.58 75.78 L1140.50 75.70 L1142.42 75.61 L1144.34 75.53 L1146.27 75.45 L1148.21 75.37 L1150.14 75.29 L1152.09 75.21 L1154.03 75.13 L1155.98 75.05 L1157.94 74.97 L1159.89 74.90 L1161.86 74.82 L1163.82 74.75 L1165.79 74.67 L1167.77 74.60 L1169.75 74.52 L1171.73 74.45 L1173.71 74.38 L1175.70 74.31 L1177.70 74.24 L1179.70 74.17 L1181.70 74.10 L1183.71 74.03 L1185.72 73.96 L1187.73 73.90 L1189.75 73.83 L1191.78 73.76 L1193.80 73.70" stroke="#0000ff" stroke-width="1.75" fill="none" stroke-linejoin="round"/>
<path d="M687.50 304.28 L687.50 304.27 L687.51 304.23 L687.52 304.16 L687.53 304.06 L687.55 303.94 L687.57 303.79 L687.60 303.62 L687.63 303.42 L687.66 303.19 L687.70 302.94 L687.75 302.66 L687.79 302.35 L687.84 302.03 L687.90 301.67 L687.96 301.30 L688.02 300.90 L688.09 300.47 L688.16 300.03 L688.23 299.56 L688.31 299.07 L688.40 298.56 L688.48 298.03 L688.58 297.48 L688.67 296.92 L688.77 296.33 L688.87 295.72 L688.98 295.10 L689.09 294.46 L689.21 293.81 L689.33 293.14 L689.45 292.45 L689.58 291.75 L689.71 291.04 L689.85 290.32 L689.99 289.58 L690.14 288.83 L690.28 288.07 L690.44 287.29 L690.59 286.51 L690.75 285.72 L690.92 284.92 L691.09 284.11 L691.26 283.29 L691.44 282.47 L691.62 281.64 L691.80 280.80 L691.99 279.96 L692.18 279.11 L692.38 278.26 L692.58 277.40 L692.79 276.54 L693.00 275.67 L693.21 274.80 L693.43 273.93 L693.65 273.06 L693.88 272.18 L694.11 271.30 L694.34 270.42 L694.58 269.54 L694.82 268.66 L695.07 267.78 L695.32 266.90 L695.57 266.02 L695.83 265.13 L696.09 264.25 L696.36 263.37 L696.63 262.49 L696.90 261.61 L697.18 260.73 L697.46 259.86 L697.75 258.98 L698.04 258.11 L698.34 257.24 L698.63 256.37 L698.94 255.50 L699.24 254.64 L699.56 253.78 L699.87 252.92 L700.19 252.06 L700.51 251.21 L700.84 250.36 L701.17 249.51 L701.51 248.66 L701.85 247.82 L702.19 246.98 L702.54 246.14 L702.89 245.31 L703.25 244.48 L703.61 243.65 L703.97 242.83 L704.34 242.01 L704.71 241.19 L705.09 240.38 L705.47 239.57 L705.85 238.76 L706.24 237.96 L706.63 237.16 L707.03 236.36 L707.43 235.56 L707.83 234.77 L708.24 233.99 L708.65 233.20 L709.07 232.42 L709.49 231.64 L709.92 230.86 L710.35 230.09 L710.78 229.32 L711.22 228.56 L711.66 227.79 L712.10 227.03 L712.55 226.27 L713.01 225.52 L713.46 224.77 L713.93 224.02 L714.39 223.27 L714.86 222.52 L715.33 221.78 L715.81 221.04 L716.29 220.31 L716.78 219.57 L717.27 218.84 L717.76 218.11 L718.26 217.38 L718.76 216.66 L719.27 215.94 L719.78 215.22 L720.30 214.50 L720.81 213.78 L721.34 213.07 L721.86 212.36 L722.39 211.65 L722.93 210.94 L723.47 210.23 L724.01 209.53 L724.56 208.82 L725.11 208.12 L725.66 207.42 L726.22 206.73 L726.79 206.03 L727.35 205.34 L727.92 204.64 L728.50 203.95 L729.08 203.26 L729.66 202.58 L730.25 201.89 L730.84 201.20 L731.44 200.52 L732.04 199.84 L732.64 199.15 L733.25 198.47 L733.86 197.80 L734.48 197.12 L735.10 196.44 L735.72 195.77 L736.35 195.09 L736.98 194.42 L737.62 193.74 L738.26 193.07 L738.90 192.40 L739.55 191.73 L740.21 191.07 L740.86 190.40 L741.52 189.73 L742.19 189.07 L742.86 188.40 L743.53 187.74 L744.21 187.07 L744.89 186.41 L745.57 185.75 L746.26 185.09 L746.96 184.43 L747.65 183.77 L748.36 183.11 L749.06 182.45 L749.77 181.80 L750.48 181.14 L751.20 180.49 L751.92 179.83 L752.65 179.18 L753.38 178.52 L754.11 177.87 L754.85 177.22 L755.59 176.57 L756.34 175.92 L757.09 175.27 L757.85 174.62 L758.60 173.97 L759.37 173.32 L760.13 172.67 L760.90 172.02 L761.68 171.38 L762.46 170.73 L763.24 170.09 L764.03 169.44 L764.82 168.80 L765.61 168.16 L766.41 167.51 L767.22 166.87 L768.02 166.23 L768.83 165.59 L769.65 164.95 L770.47 164.31 L771.29 163.67 L772.12 163.03 L772.95 162.39 L773.79 161.76 L774.63 161.12 L775.47 160.49 L776.32 159.85 L777.17 159.22 L778.03 158.58 L778.89 157.95 L779.75 157.32 L780.62 156.69 L781.49 156.06 L782.37 155.43 L783.25 154.80 L784.13 154.17 L785.02 153.54 L785.91 152.92 L786.81 152.29 L787.71 151.66 L788.62 151.04 L789.52 150.42 L790.44 149.79 L791.35 149.17 L792.28 148.55 L793.20 147.93 L794.13 147.31 L795.06 146.69 L796.00 146.08 L796.94 145.46 L797.89 144.84 L798.84 144.23 L799.79 143.61 L800.75 143.00 L801.71 142.39 L802.68 141.78 L803.65 141.17 L804.62 140.57 L805.60 139.96 L806.58 139.36 L807.57 138.76 L808.56 138.16 L809.55 137.57 L810.55 136.97 L811.55 136.38 L812.56 135.79 L813.57 135.21 L814.58 134.62 L815.60 134.04 L816.63 133.46 L817.65 132.89 L818.68 132.31 L819.72 131.74 L820.76 131.18 L821.80 130.61 L822.85 130.05 L823.90 129.49 L824.95 128.94 L826.01 128.39 L827.08 127.84 L828.14 127.30 L829.22 126.76 L830.29 126.22 L831.37 125.68 L832.45 125.15 L833.54 124.63 L834.63 124.10 L835.73 123.58 L836.83 123.07 L837.93 122.56 L839.04 122.05 L840.16 121.54 L841.27 121.04 L842.39 120.55 L843.52 120.05 L844.64 119.56 L845.78 119.08 L846.91 118.59 L848.05 118.12 L849.20 117.64 L850.35 117.17 L851.50 116.70 L852.66 116.24 L853.82 115.78 L854.98 115.32 L856.15 114.87 L857.33 114.42 L858.50 113.98 L859.69 113.53 L860.87 113.09 L862.06 112.66 L863.25 112.23 L864.45 111.80 L865.65 111.38 L866.86 110.96 L868.07 110.54 L869.28 110.12 L870.50 109.71 L871.72 109.31 L872.95 108.90 L874.18 108.50 L875.41 108.11 L876.65 107.71 L877.89 107.32 L879.14 106.94 L880.39 106.55 L881.65 106.17 L882.90 105.80 L884.17 105.42 L885.43 105.05 L886.70 104.68 L887.98 104.32 L889.26 103.96 L890.54 103.60 L891.83 103.25 L893.12 102.90 L894.41 102.55 L895.71 102.20 L897.02 101.86 L898.32 101.52 L899.64 101.19 L900.95 100.85 L902.27 100.52 L903.60 100.20 L904.92 99.87 L906.25 99.55 L907.59 99.23 L908.93 98.92 L910.27 98.61 L911.62 98.30 L912.97 97.99 L914.33 97.69 L915.69 97.38 L917.06 97.09 L918.42 96.79 L919.80 96.50 L921.17 96.21 L922.55 95.92 L923.94 95.64 L925.33 95.35 L926.72 95.08 L928.12 94.80 L929.52 94.53 L930.92 94.25 L932.33 93.99 L933.75 93.72 L935.16 93.46 L936.58 93.20 L938.01 92.94 L939.44 92.68 L940.87 92.43 L942.31 92.18 L943.75 91.93 L945.20 91.68 L946.65 91.44 L948.10 91.20 L949.56 90.96 L951.02 90.72 L952.49 90.49 L953.96 90.26 L955.43 90.03 L956.91 89.80 L958.39 89.57 L959.88 89.35 L961.37 89.13 L962.86 88.91 L964.36 88.70 L965.86 88.48 L967.37 88.27 L968.88 88.06 L970.40 87.85 L971.92 87.65 L973.44 87.44 L974.97 87.24 L976.50 87.04 L978.03 86.85 L979.57 86.65 L981.11 86.46 L982.66 86.27 L984.21 86.08 L985.77 85.89 L987.33 85.71 L988.89 85.52 L990.46 85.34 L992.03 85.16 L993.61 84.99 L995.19 84.81 L996.77 84.64 L998.36 84.46 L999.95 84.29 L1001.55 84.12 L1003.15 83.96 L1004.75 83.79 L1006.36 83.63 L1007.97 83.47 L1009.59 83.31 L1011.21 83.15 L1012.83 82.99 L1014.46 82.84 L1016.10 82.68 L1017.73 82.53 L1019.37 82.38 L1021.02 82.23 L1022.67 82.08 L1024.32 81.94 L1025.98 81.79 L1027.64 81.65 L1029.30 81.51 L1030.97 81.37 L1032.65 81.23 L1034.32 81.09 L1036.01 80.95 L1037.69 80.82 L1039.38 80.69 L1041.08 80.55 L1042.77 80.42 L1044.48 80.29 L1046.18 80.17 L1047.89 80.04 L1049.61 79.91 L1051.32 79.79 L1053.05 79.67 L1054.77 79.54 L1056.50 79.42 L1058.24 79.30 L1059.98 79.19 L1061.72 79.07 L1063.46 78.95 L1065.22 78.84 L1066.97 78.72 L1068.73 78.61 L1070.49 78.50 L1072.26 78.39 L1074.03 78.28 L1075.80 78.17 L1077.58 78.07 L1079.37 77.96 L1081.15 77.85 L1082.95 77.75 L1084.74 77.65 L1086.54 77.55 L1088.34 77.44 L1090.15 77.34 L1091.96 77.25 L1093.78 77.15 L1095.60 77.05 L1097.42 76.96 L1099.25 76.86 L1101.08 76.77 L1102.92 76.67 L1104.76 76.58 L1106.60 76.49 L1108.45 76.40 L1110.30 76.31 L1112.16 76.22 L1114.02 76.13 L1115.89 76.05 L1117.75 75.96 L1119.63 75.87 L1121.50 75.79 L1123.38 75.71 L1125.27 75.62 L1127.16 75.54 L1129.05 75.46 L1130.95 75.38 L1132.85 75.30 L1134.76 75.22 L1136.66 75.14 L1138.58 75.07 L1140.50 74.99 L1142.42 74.91 L1144.34 74.84 L1146.27 74.76 L1148.21 74.69 L1150.14 74.62 L1152.09 74.55 L1154.03 74.47 L1155.98 74.40 L1157.94 74.33 L1159.89 74.26 L1161.86 74.20 L1163.82 74.13 L1165.79 74.06 L1167.77 73.99 L1169.75 73.93 L1171.73 73.86 L1173.71 73.80 L1175.70 73.73 L1177.70 73.67 L1179.70 73.61 L1181.70 73.54 L1183.71 73.48 L1185.72 73.42 L1187.73 73.36 L1189.75 73.30 L1191.78 73.24 L1193.80 73.18" stroke="#ff8000" stroke-width="1.75" fill="none" stroke-linejoin="round"/>
<path d="M687.50 227.75 L687.50 227.75 L687.51 227.73 L687.52 227.70 L687.53 227.65 L687.55 227.59 L687.57 227.52 L687.60 227.44 L687.63 227.34 L687.66 227.23 L687.70 227.11 L687.75 226.98 L687.79 226.83 L687.84 226.67 L687.90 226.50 L687.96 226.32 L688.02 226.13 L688.09 225.92 L688.16 225.71 L688.23 225.48 L688.31 225.24 L688.40 225.00 L688.48 224.74 L688.58 224.47 L688.67 224.19 L688.77 223.90 L688.87 223.61 L688.98 223.30 L689.09 222.98 L689.21 222.66 L689.33 222.33 L689.45 221.99 L689.58 221.64 L689.71 221.29 L689.85 220.93 L689.99 220.56 L690.14 220.18 L690.28 219.80 L690.44 219.41 L690.59 219.01 L690.75 218.61 L690.92 218.21 L691.09 217.80 L691.26 217.38 L691.44 216.96 L691.62 216.54 L691.80 216.11 L691.99 215.68 L692.18 215.24 L692.38 214.80 L692.58 214.36 L692.79 213.91 L693.00 213.46 L693.21 213.01 L693.43 212.55 L693.65 212.10 L693.88 211.64 L694.11 211.18 L694.34 210.71 L694.58 210.25 L694.82 209.78 L695.07 209.32 L695.32 208.85 L695.57 208.38 L695.83 207.91 L696.09 207.44 L696.36 206.96 L696.63 206.49 L696.90 206.02 L697.18 205.54 L697.46 205.07 L697.75 204.60 L698.04 204.12 L698.34 203.65 L698.63 203.17 L698.94 202.70 L699.24 202.23 L699.56 201.75 L699.87 201.28 L700.19 200.81 L700.51 200.33 L700.84 199.86 L701.17 199.39 L701.51 198.92 L701.85 198.45 L702.19 197.98 L702.54 197.51 L702.89 197.04 L703.25 196.57 L703.61 196.10 L703.97 195.63 L704.34 195.17 L704.71 194.70 L705.09 194.24 L705.47 193.77 L705.85 193.31 L706.24 192.84 L706.63 192.38 L707.03 191.92 L707.43 191.46 L707.83 191.00 L708.24 190.54 L708.65 190.08 L709.07 189.62 L709.49 189.16 L709.92 188.70 L710.35 188.25 L710.78 187.79 L711.22 187.33 L711.66 186.88 L712.10 186.42 L712.55 185.97 L713.01 185.51 L713.46 185.06 L713.93 184.60 L714.39 184.15 L714.86 183.70 L715.33 183.25 L715.81 182.79 L716.29 182.34 L716.78 181.89 L717.27 181.44 L717.76 180.99 L718.26 180.53 L718.76 180.08 L719.27 179.63 L719.78 179.18 L720.30 178.73 L720.81 178.28 L721.34 177.83 L721.86 177.38 L722.39 176.92 L722.93 176.47 L723.47 176.02 L724.01 175.57 L724.56 175.12 L725.11 174.67 L725.66 174.22 L726.22 173.76 L726.79 173.31 L727.35 172.86 L727.92 172.41 L728.50 171.95 L729.08 171.50 L729.66 171.05 L730.25 170.59 L730.84 170.14 L731.44 169.68 L732.04 169.23 L732.64 168.77 L733.25 168.32 L733.86 167.86 L734.48 167.40 L735.10 166.95 L735.72 166.49 L736.35 166.03 L736.98 165.57 L737.62 165.12 L738.26 164.66 L738.90 164.20 L739.55 163.74 L740.21 163.28 L740.86 162.82 L741.52 162.36 L742.19 161.89 L742.86 161.43 L743.53 160.97 L744.21 160.51 L744.89 160.05 L745.57 159.58 L746.26 159.12 L746.96 158.66 L747.65 158.20 L748.36 157.73 L749.06 157.27 L749.77 156.81 L750.48 156.34 L751.20 155.88 L751.92 155.41 L752.65 154.95 L753.38 154.48 L754.11 154.02 L754.85 153.56 L755.59 153.09 L756.34 152.63 L757.09 152.16 L757.85 151.70 L758.60 151.23 L759.37 150.77 L760.13 150.31 L760.90 149.84 L761.68 149.38 L762.46 148.91 L763.24 148.45 L764.03 147.98 L764.82 147.52 L765.61 147.06 L766.41 146.59 L767.22 146.13 L768.02 145.67 L768.83 145.20 L769.65 144.74 L770.47 144.28 L771.29 143.82 L772.12 143.35 L772.95 142.89 L773.79 142.43 L774.63 141.97 L775.47 141.51 L776.32 141.05 L777.17 140.59 L778.03 140.13 L778.89 139.67 L779.75 139.21 L780.62 138.75 L781.49 138.29 L782.37 137.83 L783.25 137.38 L784.13 136.92 L785.02 136.46 L785.91 136.01 L786.81 135.55 L787.71 135.09 L788.62 134.64 L789.52 134.19 L790.44 133.73 L791.35 133.28 L792.28 132.83 L793.20 132.37 L794.13 131.92 L795.06 131.47 L796.00 131.02 L796.94 130.57 L797.89 130.12 L798.84 129.67 L799.79 129.23 L800.75 128.78 L801.71 128.33 L802.68 127.89 L803.65 127.44 L804.62 127.00 L805.60 126.56 L806.58 126.12 L807.57 125.68 L808.56 125.24 L809.55 124.80 L810.55 124.36 L811.55 123.93 L812.56 123.49 L813.57 123.06 L814.58 122.63 L815.60 122.20 L816.63 121.78 L817.65 121.35 L818.68 120.93 L819.72 120.50 L820.76 120.08 L821.80 119.67 L822.85 119.25 L823.90 118.83 L824.95 118.42 L826.01 118.01 L827.08 117.60 L828.14 117.20 L829.22 116.79 L830.29 116.39 L831.37 115.99 L832.45 115.59 L833.54 115.20 L834.63 114.80 L835.73 114.41 L836.83 114.02 L837.93 113.64 L839.04 113.25 L840.16 112.87 L841.27 112.49 L842.39 112.12 L843.52 111.74 L844.64 111.37 L845.78 111.00 L846.91 110.63 L848.05 110.27 L849.20 109.90 L850.35 109.54 L851.50 109.18 L852.66 108.83 L853.82 108.48 L854.98 108.13 L856.15 107.78 L857.33 107.43 L858.50 107.09 L859.69 106.74 L860.87 106.41 L862.06 106.07 L863.25 105.73 L864.45 105.40 L865.65 105.07 L866.86 104.74 L868.07 104.42 L869.28 104.10 L870.50 103.77 L871.72 103.46 L872.95 103.14 L874.18 102.83 L875.41 102.51 L876.65 102.20 L877.89 101.90 L879.14 101.59 L880.39 101.29 L881.65 100.99 L882.90 100.69 L884.17 100.39 L885.43 100.10 L886.70 99.81 L887.98 99.52 L889.26 99.23 L890.54 98.94 L891.83 98.66 L893.12 98.38 L894.41 98.10 L895.71 97.82 L897.02 97.55 L898.32 97.27 L899.64 97.00 L900.95 96.73 L902.27 96.47 L903.60 96.20 L904.92 95.94 L906.25 95.68 L907.59 95.42 L908.93 95.16 L910.27 94.91 L911.62 94.66 L912.97 94.41 L914.33 94.16 L915.69 93.91 L917.06 93.67 L918.42 93.42 L919.80 93.18 L921.17 92.94 L922.55 92.71 L923.94 92.47 L925.33 92.24 L926.72 92.01 L928.12 91.78 L929.52 91.55 L930.92 91.32 L932.33 91.10 L933.75 90.88 L935.16 90.66 L936.58 90.44 L938.01 90.22 L939.44 90.01 L940.87 89.79 L942.31 89.58 L943.75 89.37 L945.20 89.16 L946.65 88.96 L948.10 88.75 L949.56 88.55 L951.02 88.35 L952.49 88.15 L953.96 87.95 L955.43 87.75 L956.91 87.56 L958.39 87.37 L959.88 87.17 L961.37 86.98 L962.86 86.80 L964.36 86.61 L965.86 86.42 L967.37 86.24 L968.88 86.06 L970.40 85.88 L971.92 85.70 L973.44 85.52 L974.97 85.35 L976.50 85.17 L978.03 85.00 L979.57 84.83 L981.11 84.66 L982.66 84.49 L984.21 84.32 L985.77 84.16 L987.33 83.99 L988.89 83.83 L990.46 83.67 L992.03 83.51 L993.61 83.35 L995.19 83.20 L996.77 83.04 L998.36 82.89 L999.95 82.73 L1001.55 82.58 L1003.15 82.43 L1004.75 82.28 L1006.36 82.14 L1007.97 81.99 L1009.59 81.85 L1011.21 81.70 L1012.83 81.56 L1014.46 81.42 L1016.10 81.28 L1017.73 81.14 L1019.37 81.01 L1021.02 80.87 L1022.67 80.74 L1024.32 80.60 L1025.98 80.47 L1027.64 80.34 L1029.30 80.21 L1030.97 80.08 L1032.65 79.95 L1034.32 79.83 L1036.01 79.70 L1037.69 79.58 L1039.38 79.46 L1041.08 79.33 L1042.77 79.21 L1044.48 79.09 L1046.18 78.98 L1047.89 78.86 L1049.61 78.74 L1051.32 78.63 L1053.05 78.51 L1054.77 78.40 L1056.50 78.29 L1058.24 78.18 L1059.98 78.07 L1061.72 77.96 L1063.46 77.85 L1065.22 77.74 L1066.97 77.64 L1068.73 77.53 L1070.49 77.43 L1072.26 77.33 L1074.03 77.22 L1075.80 77.12 L1077.58 77.02 L1079.37 76.92 L1081.15 76.82 L1082.95 76.73 L1084.74 76.63 L1086.54 76.53 L1088.34 76.44 L1090.15 76.34 L1091.96 76.25 L1093.78 76.16 L1095.60 76.07 L1097.42 75.97 L1099.25 75.88 L1101.08 75.80 L1102.92 75.71 L1104.76 75.62 L1106.60 75.53 L1108.45 75.45 L1110.30 75.36 L1112.16 75.28 L1114.02 75.19 L1115.89 75.11 L1117.75 75.03 L1119.63 74.95 L1121.50 74.87 L1123.38 74.79 L1125.27 74.71 L1127.16 74.63 L1129.05 74.55 L1130.95 74.47 L1132.85 74.40 L1134.76 74.32 L1136.66 74.25 L1138.58 74.17 L1140.50 74.10 L1142.42 74.03 L1144.34 73.95 L1146.27 73.88 L1148.21 73.81 L1150.14 73.74 L1152.09 73.67 L1154.03 73.60 L1155.98 73.53 L1157.94 73.47 L1159.89 73.40 L1161.86 73.33 L1163.82 73.27 L1165.79 73.20 L1167.77 73.14 L1169.75 73.07 L1171.73 73.01 L1173.71 72.94 L1175.70 72.88 L1177.70 72.82 L1179.70 72.76 L1181.70 72.70 L1183.71 72.64 L1185.72 72.58 L1187.73 72.52 L1189.75 72.46 L1191.78 72.40 L1193.80 72.35" stroke="#996633" stroke-width="1.75" fill="none" stroke-linejoin="round"/>
</svg>
</body></html>
